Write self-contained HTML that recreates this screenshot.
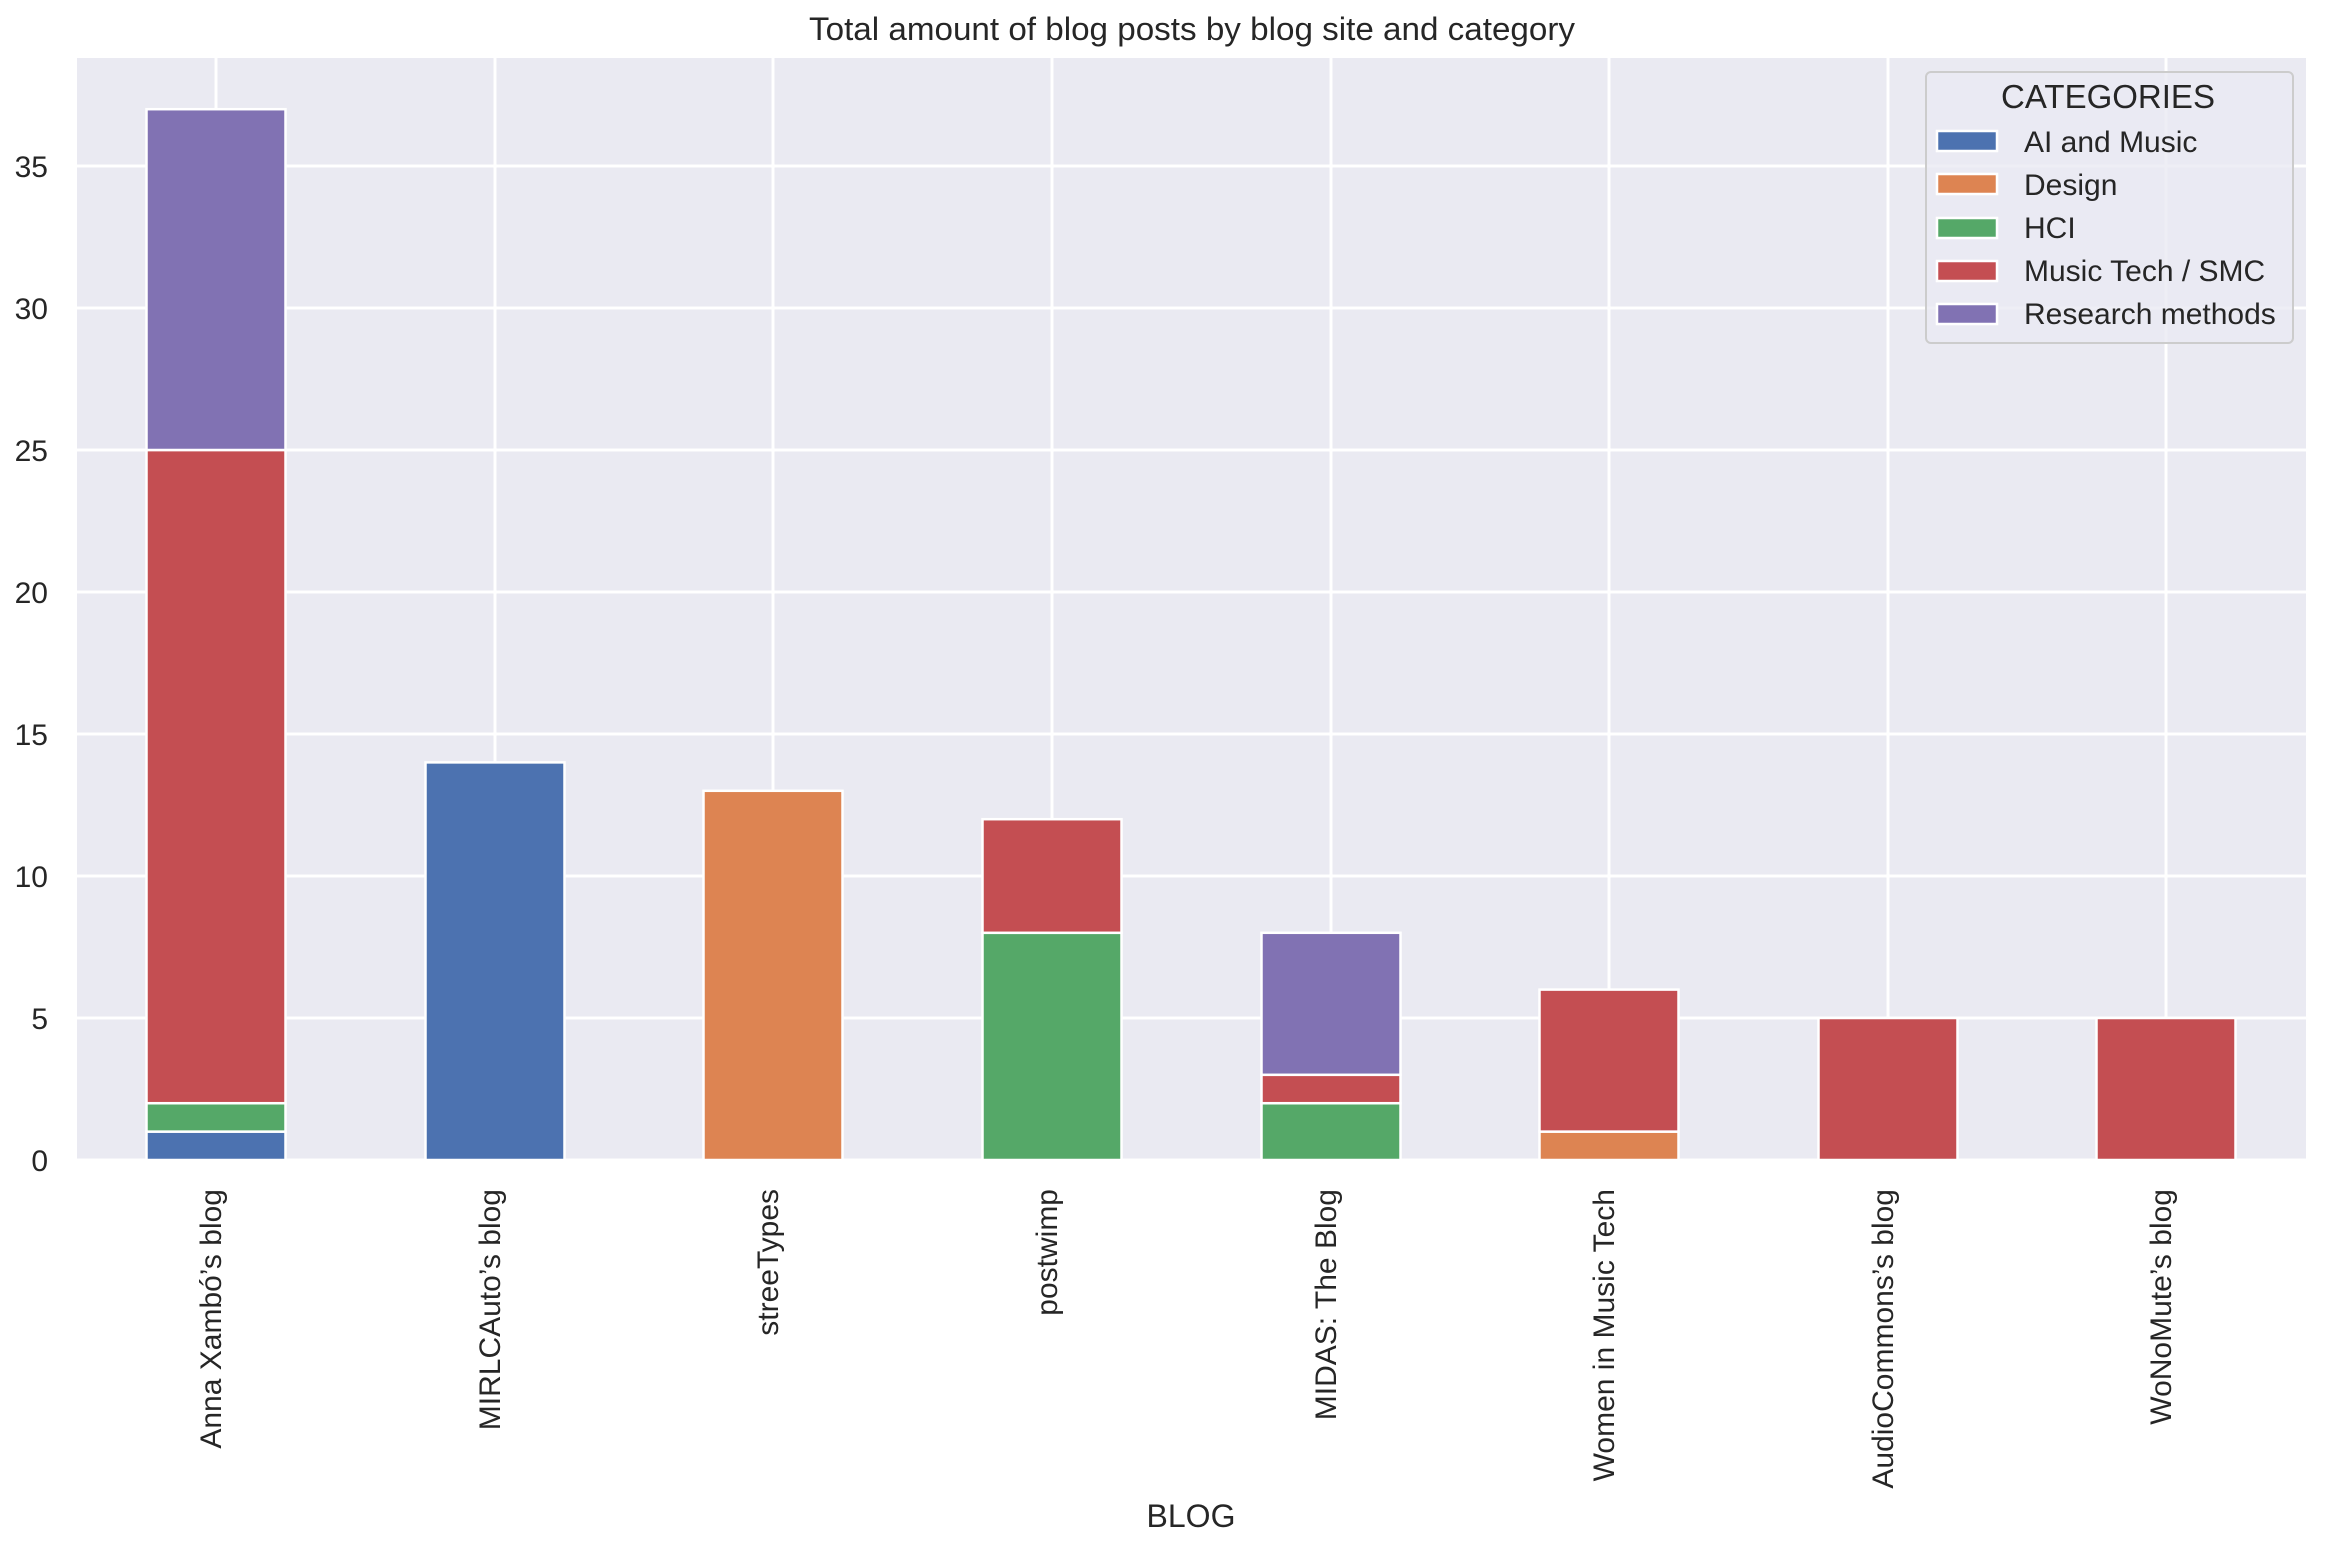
<!DOCTYPE html>
<html><head><meta charset="utf-8"><style>html,body{margin:0;padding:0;background:#fff}svg{display:block}</style></head>
<body>
<svg width="2335" height="1544" xmlns="http://www.w3.org/2000/svg" font-family="Liberation Sans, Arial, sans-serif" fill="#262626">
<rect x="77" y="58" width="2229" height="1102" fill="#eaeaf2"/>
<g stroke="#fff" stroke-width="3">
<line x1="77" x2="2306" y1="1160" y2="1160"/>
<line x1="77" x2="2306" y1="1018" y2="1018"/>
<line x1="77" x2="2306" y1="876" y2="876"/>
<line x1="77" x2="2306" y1="734" y2="734"/>
<line x1="77" x2="2306" y1="592" y2="592"/>
<line x1="77" x2="2306" y1="450" y2="450"/>
<line x1="77" x2="2306" y1="308" y2="308"/>
<line x1="77" x2="2306" y1="166" y2="166"/>
<line y1="58" y2="1160" x1="216" x2="216"/>
<line y1="58" y2="1160" x1="495" x2="495"/>
<line y1="58" y2="1160" x1="773" x2="773"/>
<line y1="58" y2="1160" x1="1052" x2="1052"/>
<line y1="58" y2="1160" x1="1331" x2="1331"/>
<line y1="58" y2="1160" x1="1609" x2="1609"/>
<line y1="58" y2="1160" x1="1888" x2="1888"/>
<line y1="58" y2="1160" x1="2166" x2="2166"/>
</g>
<g stroke="#fff" stroke-width="2.5">
<rect x="146.5" y="1131.6" width="139" height="28.4" fill="#4c72b0"/>
<rect x="146.5" y="1103.2" width="139" height="28.4" fill="#55a868"/>
<rect x="146.5" y="450" width="139" height="653.2" fill="#c44e52"/>
<rect x="146.5" y="109.2" width="139" height="340.8" fill="#8172b3"/>
<rect x="425.5" y="762.4" width="139" height="397.6" fill="#4c72b0"/>
<rect x="703.5" y="790.8" width="139" height="369.2" fill="#dd8452"/>
<rect x="982.5" y="932.8" width="139" height="227.2" fill="#55a868"/>
<rect x="982.5" y="819.2" width="139" height="113.6" fill="#c44e52"/>
<rect x="1261.5" y="1103.2" width="139" height="56.8" fill="#55a868"/>
<rect x="1261.5" y="1074.8" width="139" height="28.4" fill="#c44e52"/>
<rect x="1261.5" y="932.8" width="139" height="142" fill="#8172b3"/>
<rect x="1539.5" y="1131.6" width="139" height="28.4" fill="#dd8452"/>
<rect x="1539.5" y="989.6" width="139" height="142" fill="#c44e52"/>
<rect x="1818.5" y="1018" width="139" height="142" fill="#c44e52"/>
<rect x="2096.5" y="1018" width="139" height="142" fill="#c44e52"/>
</g>
<g font-size="30" text-anchor="end">
<text x="48" y="1171">0</text>
<text x="48" y="1029">5</text>
<text x="48" y="887">10</text>
<text x="48" y="745">15</text>
<text x="48" y="603">20</text>
<text x="48" y="461">25</text>
<text x="48" y="319">30</text>
<text x="48" y="177">35</text>
</g>
<g font-size="30" text-anchor="end">
<text transform="translate(221,1189) rotate(-90)">Anna Xambó’s blog</text>
<text transform="translate(500,1189) rotate(-90)">MIRLCAuto’s blog</text>
<text transform="translate(778,1189) rotate(-90)">streeTypes</text>
<text transform="translate(1057,1189) rotate(-90)">postwimp</text>
<text transform="translate(1336,1189) rotate(-90)">MIDAS: The Blog</text>
<text transform="translate(1614,1189) rotate(-90)">Women in Music Tech</text>
<text transform="translate(1893,1189) rotate(-90)">AudioCommons’s blog</text>
<text transform="translate(2171,1189) rotate(-90)">WoNoMute’s blog</text>
</g>
<text x="1192" y="40" font-size="32" text-anchor="middle" textLength="766" lengthAdjust="spacingAndGlyphs">Total amount of blog posts by blog site and category</text>
<text x="1191" y="1527" font-size="32" text-anchor="middle">BLOG</text>
<rect x="1926" y="72" width="367" height="271" rx="5" fill="#eaeaf2" fill-opacity="0.8" stroke="#cccccc" stroke-width="2"/>
<text x="2108" y="108" font-size="33" text-anchor="middle">CATEGORIES</text>
<g stroke="#fff" stroke-width="2.5">
<rect x="1937" y="131" width="60" height="20" fill="#4c72b0"/>
<rect x="1937" y="174" width="60" height="20" fill="#dd8452"/>
<rect x="1937" y="218" width="60" height="20" fill="#55a868"/>
<rect x="1937" y="261" width="60" height="20" fill="#c44e52"/>
<rect x="1937" y="304" width="60" height="20" fill="#8172b3"/>
</g>
<g font-size="30">
<text x="2024" y="152">AI and Music</text>
<text x="2024" y="195">Design</text>
<text x="2024" y="238">HCI</text>
<text x="2024" y="281">Music Tech / SMC</text>
<text x="2024" y="324">Research methods</text>
</g>
</svg>
</body></html>
